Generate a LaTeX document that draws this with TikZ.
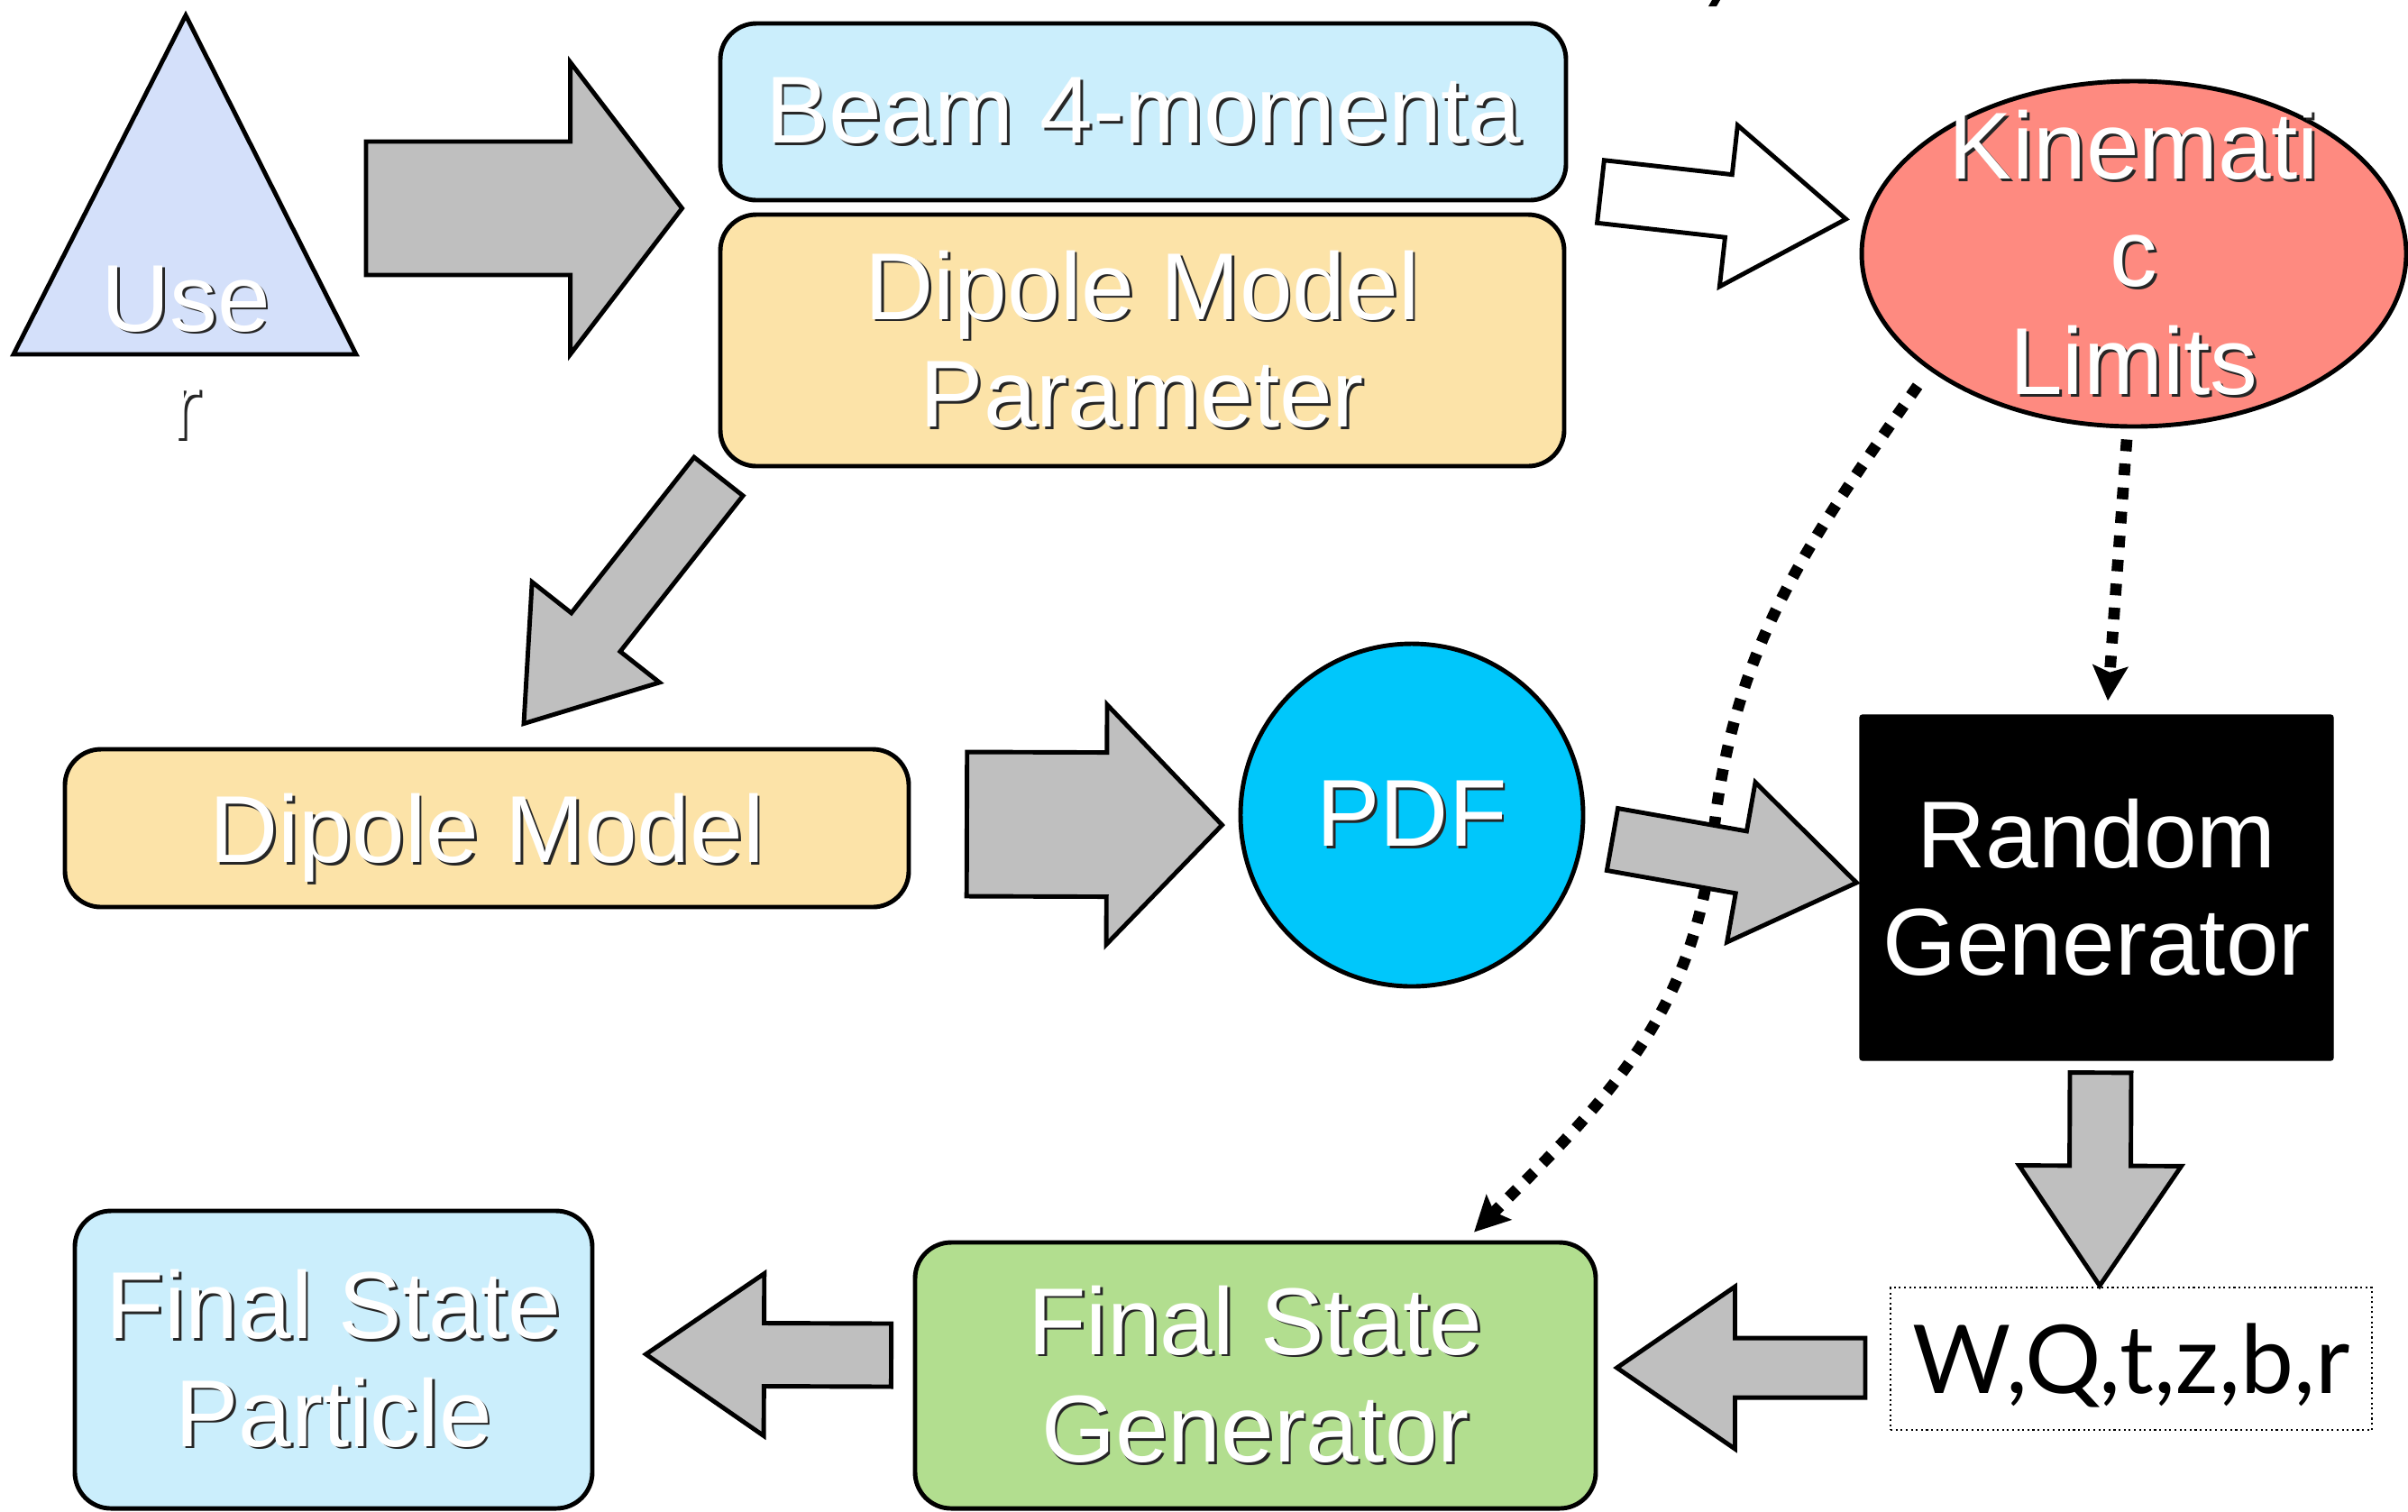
\documentclass[tikz,border=0pt]{standalone}
\usepackage{fontspec}
\setmainfont{Liberation Sans}
\newfontfamily\lato{Lato}
\usepackage{tikz}
\usetikzlibrary{arrows.meta,calc,shapes.geometric}

\definecolor{userblue}{RGB}{212,224,250}
\definecolor{paleblue}{RGB}{203,238,252}
\definecolor{paleorange}{RGB}{252,227,168}
\definecolor{salmon}{RGB}{254,138,128}
\definecolor{pdfblue}{RGB}{0,199,251}
\definecolor{palegreen}{RGB}{178,222,143}
\definecolor{arrowgray}{RGB}{191,191,191}

\newcommand{\shad}[1]{\leavevmode\rlap{\kern0.8pt\raisebox{-0.8pt}{\color{black!85}#1}}#1}

\newcommand{\fatarrow}[6][grayarrow]{%
	\coordinate (fa-a) at (#2);
	\coordinate (fa-b) at (#3);
	\coordinate (fa-c) at ($(fa-b)!#6!(fa-a)$);
	\draw [#1] ($(fa-a)!#4!90:(fa-b)$) -- ($(fa-c)!#4!90:(fa-b)$) -- ($(fa-c)!#5!90:(fa-b)$) -- (fa-b) -- ($(fa-c)!#5!-90:(fa-b)$) -- ($(fa-c)!#4!-90:(fa-b)$) -- ($(fa-a)!#4!-90:(fa-b)$) -- cycle;
}

\tikzset{
	box/.style = {draw, line width = 1.4pt, rounded corners = 0.4cm, inner sep = 0pt, align = center, text = white},
	lbl/.style = {inner sep = 0pt, align = center, text = white},
	grayarrow/.style = {draw, line width = 1.4pt, fill = arrowgray},
	whitearrow/.style = {draw, line width = 1.4pt, fill = white},
	dotarrow/.style = {line width = 3.6pt, dash pattern = on 3.7pt off 3.9pt, -{Stealth[length = 11pt, width = 11pt, inset = 2pt]}}
}

\begin{document}
\begin{tikzpicture}[font = \fontsize{30}{34}\selectfont]
		\useasboundingbox (0,0) rectangle (26.71,-16.76);
		\fill [white] (0,0) rectangle (26.71,-16.76);
		\fill (18.95,-0.07) -- (18.99,0) -- (19.08,0) -- (19.04,-0.07) -- cycle;

		\draw [line width = 1.4pt, fill = userblue] (2.06,-0.17) -- (3.95,-3.93) -- (0.15,-3.93) -- cycle;
		\node [lbl] (user) at (2.06,-3.92) {\shad{Use}\\\shad{r}};

		\node [box, fill = paleblue, minimum width = 9.38cm, minimum height = 1.96cm] (beam) at (12.68,-1.24) {\shad{Beam 4-momenta}};
		\node [box, fill = paleorange, minimum width = 9.36cm, minimum height = 2.79cm] (param) at (12.67,-3.775) {\shad{Dipole Model}\\\shad{Parameter}};
		\node [ellipse, draw, line width = 1.4pt, fill = salmon, minimum width = 6.04cm, minimum height = 3.83cm] (kin) at (23.67,-2.815) {};
		\node [lbl] (kinlbl) at (kin.center) {\shad{Kinemati}\\\shad{c}\\\shad{Limits}};

		\node [box, fill = paleorange, minimum width = 9.36cm, minimum height = 1.75cm, text depth = 0pt] (dipole) at (5.40,-9.185) {\shad{Dipole Model}};
		\node [circle, draw, line width = 1.4pt, fill = pdfblue, minimum size = 3.8cm, inner sep = 0pt, text = white] (pdf) at (15.66,-9.04) {\shad{PDF}};
		\node [draw, fill = black, rounded corners = 0.03cm, minimum width = 5.25cm, minimum height = 3.83cm, inner sep = 0pt, align = center, text = white] (rand) at (23.255,-9.845) {Random\\Generator};

		\node [draw, densely dotted, line width = 0.6pt, minimum width = 5.34cm, minimum height = 1.58cm, inner sep = 0pt, text depth = 0pt, font = {\lato\fontsize{30}{34}\selectfont}] (wq) at (23.64,-15.07) {W,Q,t,z,b,r};
		\node [box, fill = palegreen, minimum width = 7.55cm, minimum height = 2.95cm] (fsg) at (13.925,-15.255) {\shad{Final State}\\\shad{Generator}};
		\node [box, fill = paleblue, minimum width = 5.74cm, minimum height = 3.30cm] (fsp) at (3.70,-15.08) {\shad{Final State}\\\shad{Particle}};

		\draw [dotarrow] ([shift={(-0.08,-0.12)}]kin.south) -- ([shift={(0.125,0.15)}]rand.north);
		\coordinate (bend) at (19.00,-9.30);
		\draw [dotarrow] ([shift={(-2.40,-1.465)}]kin.center) to [out = -125, in = 84] (bend) to [out = -96, in = 45] ([shift={(2.425,0.09)}]fsg.north);

		\fatarrow{[shift={(2.00,1.61)}]user.center}{[shift={(-0.40,-1.07)}]beam.west}{0.74cm}{1.62cm}{1.24cm}
		\fatarrow[whitearrow]{[shift={(0.36,-0.885)}]beam.east}{[shift={(-0.15,0.385)}]kin.west}{0.35cm}{0.90cm}{1.31cm}
		\fatarrow{[shift={(-4.70,-0.09)}]param.south}{[shift={(0.41,0.26)}]dipole.north}{0.345cm}{0.90cm}{1.29cm}
		\fatarrow{[shift={(0.62,0.045)}]dipole.east}{[shift={(-0.18,-0.11)}]pdf.west}{0.80cm}{1.33cm}{1.28cm}
		\fatarrow{[shift={(0.30,-0.27)}]pdf.east}{[shift={(-0.03,0.055)}]rand.west}{0.35cm}{0.90cm}{1.30cm}
		\fatarrow{[shift={(0.045,-0.13)}]rand.south}{[shift={(-0.35,0.01)}]wq.north}{0.34cm}{0.90cm}{1.33cm}
		\fatarrow{[shift={(-0.27,-0.10)}]wq.west}{[shift={(0.21,0.085)}]fsg.east}{0.33cm}{0.90cm}{1.31cm}
		\fatarrow{[shift={(-0.24,0.225)}]fsg.west}{[shift={(0.57,0.06)}]fsp.east}{0.35cm}{0.90cm}{1.31cm}
\end{tikzpicture}
\end{document}
